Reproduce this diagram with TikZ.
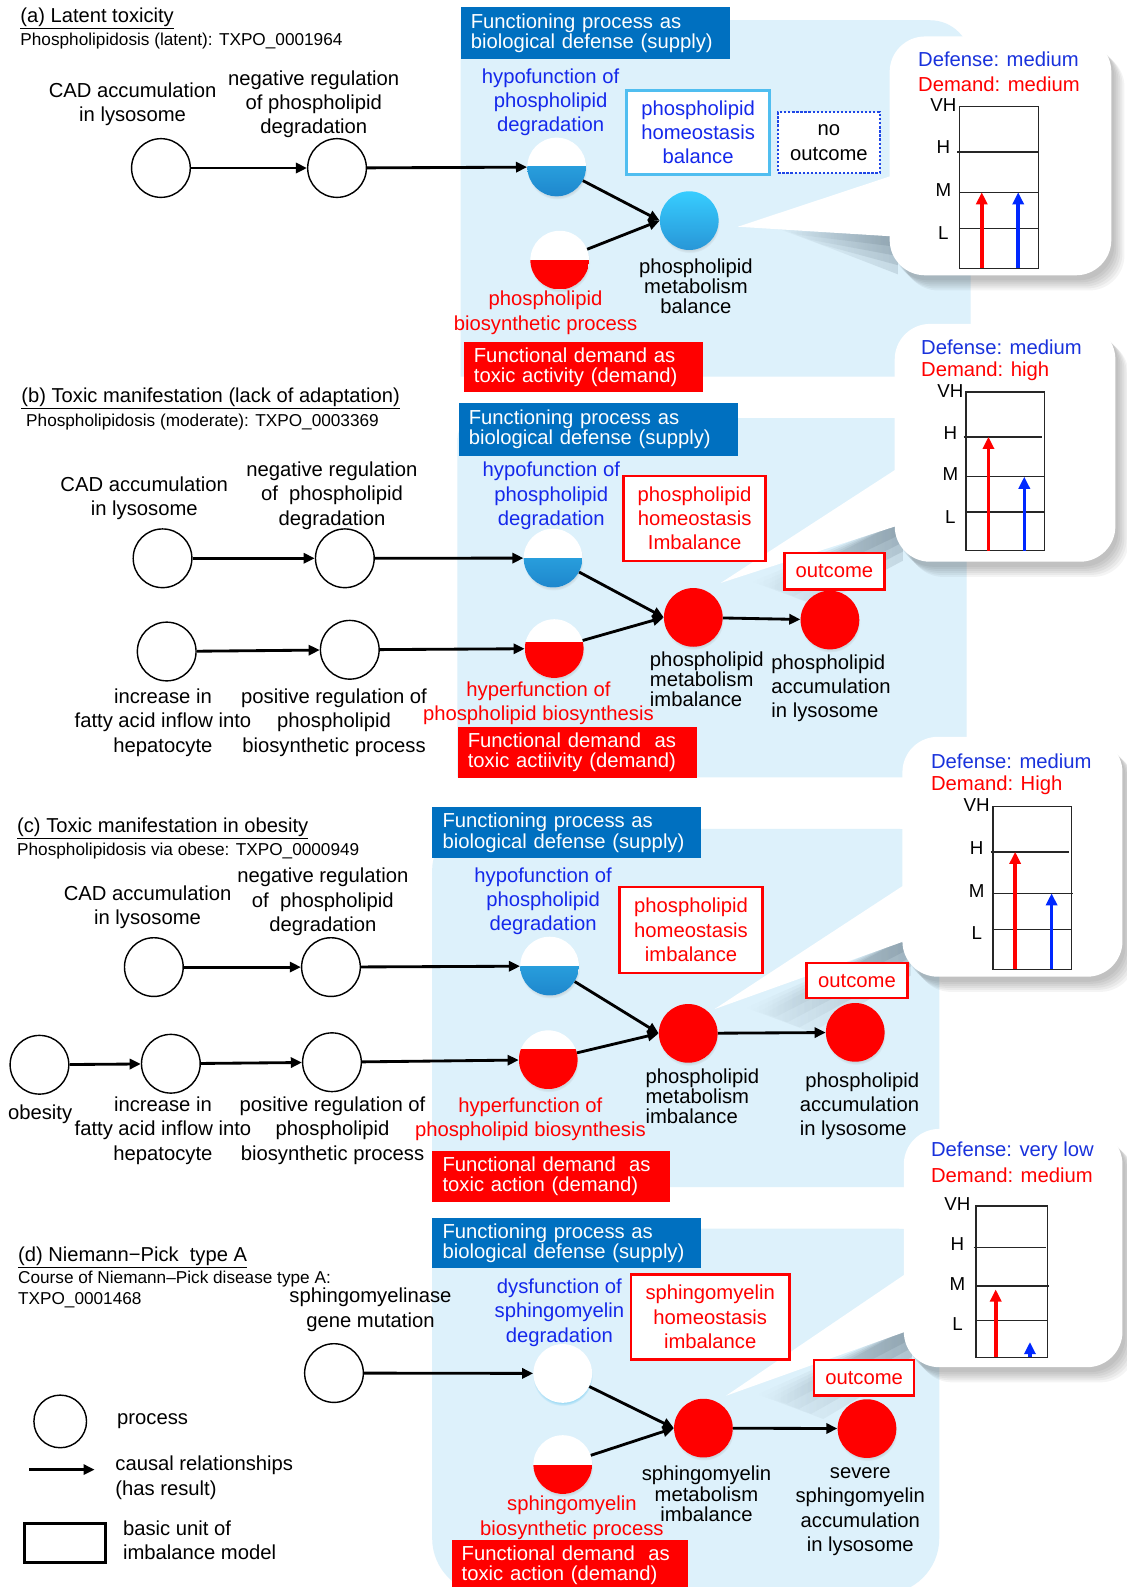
\documentclass[tikz,border=0pt]{standalone}
\usepackage{fontspec}
\setmainfont{Liberation Sans}
\usetikzlibrary{arrows.meta,shadows,calc,fadings}
\definecolor{panelc}{RGB}{221,241,251}
\definecolor{hdrblue}{RGB}{0,112,192}
\definecolor{myred}{RGB}{255,0,0}
\definecolor{myblue}{RGB}{20,40,235}
\definecolor{defblue}{RGB}{25,50,220}
\definecolor{hbtop}{RGB}{50,180,235}
\definecolor{hbbot}{RGB}{30,135,205}
\definecolor{baltop}{RGB}{55,205,255}
\definecolor{balbot}{RGB}{40,150,215}
\definecolor{skyb}{RGB}{80,190,240}
\definecolor{dotb}{RGB}{30,70,230}
\definecolor{chblue}{RGB}{0,40,255}
\definecolor{shgray}{RGB}{70,90,105}

\newcommand\mypanel[8]{%
 \fill[panelc] (#1,#2+#5) .. controls (#1,#2+0.45*#5) and (#1+0.45*#5,#2) .. (#1+#5,#2)
  -- (#3-#6,#2) .. controls (#3-0.45*#6,#2) and (#3,#2+0.45*#6) .. (#3,#2+#6)
  -- (#3,#4-#7) .. controls (#3,#4-0.45*#7) and (#3-0.45*#7,#4) .. (#3-#7,#4)
  -- (#1+#8,#4) .. controls (#1+0.45*#8,#4) and (#1,#4-0.45*#8) .. (#1,#4-#8) -- cycle;}

\newcommand\mybubble[8]{%
  \foreach \k in {1,...,6}{
    \fill[black,opacity=0.045,rounded corners=35pt] (#1+1+2*\k,#2+3+2*\k) rectangle (#3+1+2*\k,#4+3+2*\k);
  }
  \foreach \k in {0,1,2,3}{
    \fill[shgray,opacity=0.16,path fading=west] (#5+30+6*\k,#6-1+2*\k) -- (#1+8,#8-3) -- (#1+8,#8+10+9*\k) -- (#5+60+12*\k,#6+8+5*\k) -- cycle;
  }
  \fill[white] (#5,#6) -- (#1+10,#7) -- (#1+10,#8) -- cycle;
  \fill[white,rounded corners=35pt] (#1,#2) rectangle (#3,#4);
}

\begin{document}
\begin{tikzpicture}[x=1pt,y=-1pt,
 lbl/.style={font=\fontsize{20}{24}\selectfont, align=center, inner sep=0pt},
 lbltight/.style={font=\fontsize{20}{20}\selectfont, inner sep=0pt},
 proc/.style={circle, draw=black, line width=1.4pt, fill=white, minimum size=58pt, inner sep=0pt},
 arr/.style={line width=2.8pt, -{Triangle[length=11pt,width=10pt]}},
 cshadow/.style={circular drop shadow={shadow xshift=0.5pt,shadow yshift=-2.5pt,opacity=0.3,shadow scale=1.02}},
 halfblue/.style={circle, minimum size=58pt, inner sep=0pt, fill=white, cshadow,
   path picture={\shade[top color=hbtop,bottom color=hbbot] (path picture bounding box.west) rectangle (path picture bounding box.south east);}},
 halfred/.style={circle, minimum size=58pt, inner sep=0pt, fill=white, cshadow,
   path picture={\fill[myred] ([yshift=#1]path picture bounding box.west) rectangle (path picture bounding box.south east);}},
 halfred/.default=0pt,
 whc/.style={circle, minimum size=58pt, inner sep=0pt, fill=white,
   circular drop shadow={shadow xshift=0pt,shadow yshift=-2.5pt,opacity=0.5,fill=hbtop,shadow scale=1.02}},
 balc/.style={circle, minimum size=58pt, inner sep=0pt, top color=baltop, bottom color=balbot, cshadow},
 redc/.style={circle, minimum size=58pt, inner sep=0pt, fill=myred, cshadow},
 hdr/.style={fill=hdrblue, text=white, font=\fontsize{20}{20}\selectfont, align=left, anchor=north west, inner xsep=10pt, inner ysep=0pt},
 dem/.style={fill=myred, text=white, font=\fontsize{20}{20}\selectfont, align=left, anchor=north west, inner xsep=10pt, inner ysep=0pt},
 rbox/.style={draw=myred, line width=2.5pt, fill=white, text=myred, font=\fontsize{20}{24}\selectfont, align=center, inner sep=0pt, anchor=north west},
 ttl/.style={font=\fontsize{19.9}{24}\selectfont, anchor=west, inner sep=0pt},
 subt/.style={font=\fontsize{17}{21}\selectfont, anchor=west, inner sep=0pt},
 chlbl/.style={font=\fontsize{18.5}{20}\selectfont, inner sep=0pt},
 btxt/.style={font=\fontsize{20}{24}\selectfont, anchor=west, inner sep=0pt},
 chartline/.style={line width=1.4pt, black!85},
 charr/.style={line width=3.5pt, -{Triangle[length=12pt,width=11pt]}},
]
\useasboundingbox[fill=white] (0,0) rectangle (1113,1568);

% ---------- panels ----------
\mypanel{455}{20}{959}{372}{0}{40}{0}{0}
\mypanel{452}{413}{955}{768}{20}{40}{5}{0}
\mypanel{427}{819}{928}{1173}{40}{40}{20}{0}
\mypanel{427}{1214}{928}{1575}{40}{40}{55}{55}

% ---------- headers and demand boxes ----------
\node[hdr, minimum width=266pt, minimum height=51pt, text width=246pt] (ha) at (455,7) {Functioning process as\\biological defense (supply)};
\node[dem, minimum width=236pt, minimum height=49pt, text width=216pt] (da) at (458,338) {Functional demand as\\toxic activity (demand)};
\node[hdr, minimum width=276pt, minimum height=52pt, text width=256pt] (hb) at (453,398) {Functioning process as\\biological defense (supply)};
\node[dem, minimum width=236pt, minimum height=50pt, text width=216pt] (db) at (452,718) {Functional demand\ \ as\\toxic actiivity (demand)};
\node[hdr, minimum width=265pt, minimum height=51pt, text width=245pt] (hc) at (427,797) {Functioning process as\\biological defense (supply)};
\node[dem, minimum width=235pt, minimum height=50pt, text width=215pt] (dc) at (427,1137) {Functional demand\ \ as\\toxic action (demand)};
\node[hdr, minimum width=265pt, minimum height=50pt, text width=245pt] (hd) at (427,1203) {Functioning process as\\biological defense (supply)};
\node[dem, minimum width=234pt, minimum height=50pt, text width=214pt] (dd) at (446,1521) {Functional demand\ \ as\\toxic action (demand)};

% ---------- bubbles ----------
\mybubble{879}{36}{1098}{272}{729}{224}{171}{234}
\mybubble{884}{320}{1102}{555}{712}{576}{458}{517}
\mybubble{891.6}{728}{1109}{965}{706}{997}{869}{927}
\mybubble{893}{1115.4}{1109}{1350.8}{717.4}{1379}{1253}{1312.7}

% chart (a)
\node[btxt,text=defblue] (adef) at (907,59) {Defense: medium};
\node[btxt,text=myred] (adem) at (907,83) {Demand: medium};
\draw[chartline] (948,105) rectangle (1026,265);
\draw[chartline] (946,150) -- (1026,150) (948,190) -- (1026,190) (948,226) -- (1026,226);
\node[chlbl] (avh) at (932,104) {VH};
\node[chlbl] (ah) at (932,145) {H};
\node[chlbl] (am) at (932,188) {M};
\node[chlbl] (al) at (932,230) {L};
\draw[charr,myred] (970,265) -- (970,190);
\draw[charr,chblue] (1006,265) -- (1006,190);

% chart (b)
\node[btxt,text=defblue] (bdef) at (910,343) {Defense: medium};
\node[btxt,text=myred] (bdem) at (910,367) {Demand: high};
\draw[chartline] (954.5,387.5) rectangle (1032,544);
\draw[chartline] (952,431.6) -- (1030,431.6) (954.5,471) -- (1032,471) (954.5,505.7) -- (1032,505.7);
\node[chlbl] (bvh) at (939,386.5) {VH};
\node[chlbl] (bh) at (939,427.7) {H};
\node[chlbl] (bm) at (939,468.5) {M};
\node[chlbl] (bl) at (939,510.7) {L};
\draw[charr,myred] (976.6,544) -- (976.6,431.6);
\draw[charr,chblue] (1012,544) -- (1012,471);

% chart (c)
\node[btxt,text=defblue] (cdef) at (919.7,752) {Defense: medium};
\node[btxt,text=myred] (cdem) at (919.7,776) {Demand: High};
\draw[chartline] (981,796.7) rectangle (1058.4,957.8);
\draw[chartline] (979,841.6) -- (1056,841.6) (981,882.6) -- (1060,882.6) (981,918.3) -- (1058.4,918.3);
\node[chlbl] (cvh) at (965,795) {VH};
\node[chlbl] (ch) at (965,838) {H};
\node[chlbl] (cm) at (965,880) {M};
\node[chlbl] (cl) at (965,922) {L};
\draw[charr,myred] (1003,957.8) -- (1003,841.6);
\draw[charr,chblue] (1039,957.8) -- (1039,882.6);

% chart (d)
\node[btxt,text=defblue] (ddef) at (919.7,1137.7) {Defense: very low};
\node[btxt,text=myred] (ddem) at (919.7,1161.6) {Demand: medium};
\draw[chartline] (964.5,1191.7) rectangle (1035,1341);
\draw[chartline] (962,1232.4) -- (1033,1232.4) (964.5,1270.5) -- (1036,1270.5) (964.5,1304.8) -- (1035,1304.8);
\node[chlbl] (dvh) at (946,1190) {VH};
\node[chlbl] (dh) at (946,1229) {H};
\node[chlbl] (dm) at (946,1268.5) {M};
\node[chlbl] (dl) at (946,1307.7) {L};
\draw[charr,myred] (983.8,1341) -- (983.8,1274);
\draw[charr,chblue] (1017.6,1341) -- (1017.6,1326);

% ---------- titles ----------
\node[ttl] (ta) at (20,18) {\underline{(a) Latent toxicity}};
\node[subt] (sa) at (20,41) {Phospholipidosis (latent): TXPO\_0001964};
\node[ttl] (tb) at (21,393.6) {\underline{(b) Toxic manifestation (lack of adaptation)}};
\node[subt] (sb) at (25.7,416.8) {Phospholipidosis (moderate): TXPO\_0003369};
\node[ttl] (tc) at (16.8,818.6) {\underline{(c) Toxic manifestation in obesity}};
\node[subt] (sc) at (16.8,840.8) {Phospholipidosis via obese: TXPO\_0000949};
\node[ttl] (td) at (17.7,1242) {\underline{(d) Niemann−Pick\ \ type A}};
\node[subt] (sd1) at (17.7,1264) {Course of Niemann–Pick disease type A:};
\node[subt] (sd2) at (17.7,1285) {TXPO\_0001468};

% ---------- panel (a) ----------
\node[proc] (a1) at (159,166) {};
\node[proc] (a2) at (333,166) {};
\node[halfblue] (ahb) at (550,165) {};
\node[halfred] (ahr) at (553,257) {};
\node[balc] (abal) at (681,218) {};
\draw[arr] (a1) -- (a2);
\draw[arr] (a2) -- (ahb);
\draw[arr] (ahb) -- (abal.west);
\draw[arr] (ahr) -- (abal.west);
\node[lbl] (la1) at (131,103) {CAD accumulation\\in lysosome};
\node[lbl] (la2) at (310,103) {negative regulation\\of phospholipid\\degradation};
\node[lbl,text=myblue] (lahb) at (544,101) {hypofunction of\\phospholipid\\degradation};
\node[lbl,text=myred] (lahr) at (539,309) {phospholipid\\biosynthetic process};
\node[lbltight,align=center] (labal) at (687.6,283) {phospholipid\\metabolism\\balance};
\node[rbox,draw=skyb,text=myblue,minimum width=141pt,minimum height=83pt] (ahom) at (618,88) {phospholipid\\homeostasis\\balance};
\node[rbox,draw=dotb,text=black,line width=2pt,dash pattern=on 2.2pt off 1.8pt,minimum width=100pt,minimum height=60pt] (anoout) at (768,110) {no\\outcome};

% ---------- panel (b) ----------
\node[proc] (b1) at (160.6,551.6) {};
\node[proc] (b2) at (340.7,551.6) {};
\node[proc] (b3) at (164.7,643.7) {};
\node[proc] (b4) at (345.6,642) {};
\node[halfblue] (bhb) at (546.4,551.4) {};
\node[halfred=6pt] (bhr) at (547.6,640.8) {};
\node[redc] (bmet) at (685,610) {};
\node[redc] (bacc) at (820,612.6) {};
\draw[arr] (b1) -- (b2);
\draw[arr] (b2) -- (bhb);
\draw[arr] (b3) -- (b4);
\draw[arr] (b4) -- (bhr);
\draw[arr] (bhb) -- (bmet.west);
\draw[arr] (bhr) -- (bmet.west);
\draw[arr] (bmet) -- (bacc);
\node[lbl] (lb1) at (142.5,492.5) {CAD accumulation\\in lysosome};
\node[lbl] (lb2) at (328,489.6) {negative regulation\\of\ \ phospholipid\\degradation};
\node[lbl] (lb3) at (161,714) {increase in\\fatty acid inflow into\\hepatocyte};
\node[lbl] (lb4) at (330,714) {positive regulation of\\phospholipid\\biosynthetic process};
\node[lbl,text=myblue] (lbhb) at (544.7,490) {hypofunction of\\phospholipid\\degradation};
\node[lbl,text=myred] (lbhr) at (532,694.5) {hyperfunction of\\phospholipid biosynthesis};
\node[lbltight,align=left,anchor=west] (lbmet) at (642,671) {phospholipid\\metabolism\\imbalance};
\node[lbl,align=left,anchor=west] (lbacc) at (762,680) {phospholipid\\accumulation\\in lysosome};
\node[rbox,minimum width=140pt,minimum height=84pt] (bhom) at (615,469) {phospholipid\\homeostasis\\Imbalance};
\node[rbox,minimum width=99pt,minimum height=36pt] (bout) at (773.6,545) {outcome};

% ---------- panel (c) ----------
\node[proc] (c1) at (152,955.5) {};
\node[proc] (c2) at (327,955.5) {};
\node[proc] (c0) at (39,1052) {};
\node[proc] (c3) at (168.8,1051) {};
\node[proc] (c4) at (328,1049.5) {};
\node[halfblue] (chb) at (543,954.5) {};
\node[halfred=11pt] (chr) at (541.7,1047) {};
\node[redc] (cmet) at (680,1021) {};
\node[redc] (cacc) at (845,1020) {};
\draw[arr] (c1) -- (c2);
\draw[arr] (c2) -- (chb);
\draw[arr] (c0) -- (c3);
\draw[arr] (c3) -- (c4);
\draw[arr] (c4) -- (chr);
\draw[arr] (chb) -- (cmet.west);
\draw[arr] (chr) -- (cmet.west);
\draw[arr] (cmet) -- (cacc);
\node[lbl] (lc1) at (145.8,896.5) {CAD accumulation\\in lysosome};
\node[lbl] (lc2) at (319,891) {negative regulation\\of\ \ phospholipid\\degradation};
\node[lbl] (lc0) at (39.7,1101) {obesity};
\node[lbl] (lc3) at (161,1117) {increase in\\fatty acid inflow into\\hepatocyte};
\node[lbl] (lc4) at (328.5,1117) {positive regulation of\\phospholipid\\biosynthetic process};
\node[lbl,text=myblue] (lchb) at (536.6,890.6) {hypofunction of\\phospholipid\\degradation};
\node[lbl,text=myred] (lchr) at (524,1106) {hyperfunction of\\phospholipid biosynthesis};
\node[lbltight,align=left,anchor=west] (lcmet) at (637.6,1083) {phospholipid\\metabolism\\imbalance};
\node[lbl,align=left,anchor=west] (lcacc) at (790,1093) {\ phospholipid\\accumulation\\in lysosome};
\node[rbox,minimum width=141pt,minimum height=85pt] (chom) at (611,875) {phospholipid\\homeostasis\\imbalance};
\node[rbox,minimum width=100pt,minimum height=34.6pt] (cout) at (795.5,950.4) {outcome};

% ---------- panel (d) ----------
\node[proc] (d1) at (330,1356.6) {};
\node[whc] (dwh) at (556,1357) {};
\node[halfred] (dhr) at (556,1447) {};
\node[redc] (dmet) at (695,1411) {};
\node[redc] (dsev) at (856.6,1411.5) {};
\draw[arr] (d1) -- (dwh);
\draw[arr] (dwh) -- (dmet.west);
\draw[arr] (dhr) -- (dmet.west);
\draw[arr] (dmet) -- (dsev);
\node[lbl] (ld1) at (366,1294) {sphingomyelinase\\gene mutation};
\node[lbl,text=myblue] (ldwh) at (552.7,1297) {dysfunction of\\sphingomyelin\\degradation};
\node[lbl,text=myred] (ldhr) at (565,1499.6) {sphingomyelin\\biosynthetic process};
\node[lbltight,align=center] (ldmet) at (698,1476) {sphingomyelin\\metabolism\\imbalance};
\node[lbl] (ldsev) at (850,1493.5) {severe\\sphingomyelin\\accumulation\\in lysosome};
\node[rbox,minimum width=157pt,minimum height=84pt] (dhom) at (622,1258) {sphingomyelin\\homeostasis\\imbalance};
\node[rbox,minimum width=99pt,minimum height=35pt] (dout) at (803,1342.4) {outcome};

% ---------- legend ----------
\node[proc,minimum size=52pt] (lgc) at (59.5,1404.4) {};
\node[btxt] (lgct) at (115.6,1404) {process};
\coordinate (lgA) at (28.7,1452);
\coordinate (lgB) at (93.5,1452);
\draw[arr] (lgA) -- (lgB);
\node[lbl,align=left,anchor=west] (lgat) at (113.8,1460) {causal relationships\\(has result)};
\node[draw=black,line width=3pt,minimum width=80pt,minimum height=39pt,anchor=north west,inner sep=0pt] (lgr) at (23,1503.5) {};
\node[lbl,align=left,anchor=west] (lgrt) at (121.4,1522) {basic unit of\\imbalance model};
\end{tikzpicture}
\end{document}
